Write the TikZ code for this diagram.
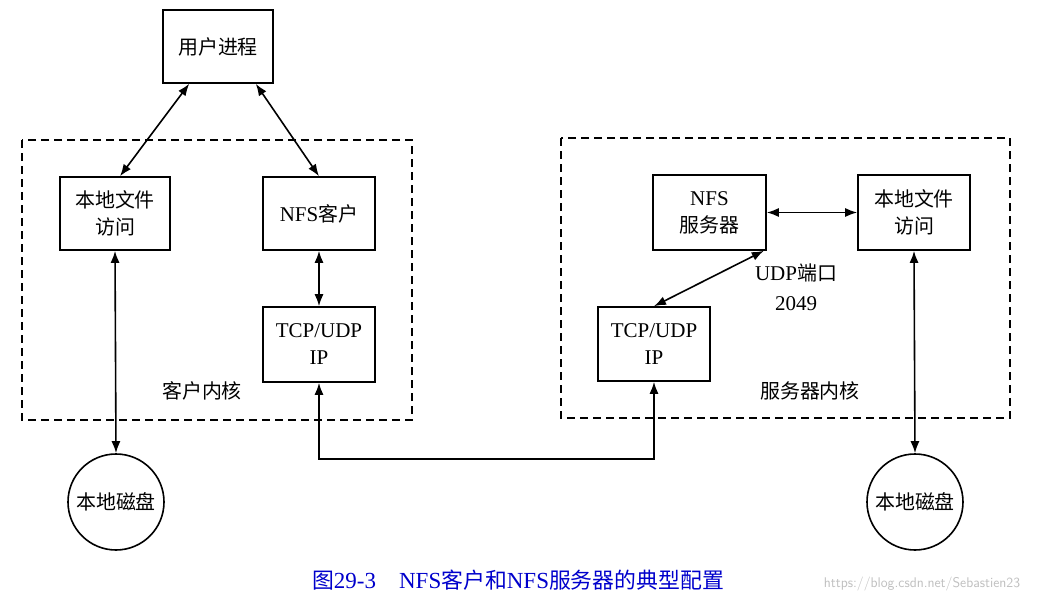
\documentclass[tikz,border=0pt]{standalone}
\usepackage{fontspec}
\setmainfont{Liberation Serif}
\newfontfamily\cjk{Noto Sans CJK SC}[Scale=0.95]
\usetikzlibrary{arrows.meta}
\begin{document}
\begin{tikzpicture}[x=1pt,y=-1pt,
 box/.style={draw,line width=1.6pt,inner sep=0,align=center,font=\fontsize{21}{27}\selectfont},
 lab/.style={font=\fontsize{21}{30}\selectfont,align=center},
 kern/.style={draw,line width=1.3pt,dash pattern=on 8pt off 5pt},
 arr/.style={line width=1.6pt,{Latex[length=12pt,width=9pt]}-{Latex[length=12pt,width=9pt]}}]
\useasboundingbox (0,0) rectangle (1037,605);
\fill[white] (0,0) rectangle (1037,605);
\draw[kern] (22,140) rectangle (412,420);
\draw[kern] (561,138) rectangle (1010,418);
\node[box,minimum width=110pt,minimum height=73pt] (up) at (218,46.5) {\cjk 用户进程};
\node[box,minimum width=110pt,minimum height=73pt] (llf) at (115,213.5) {\cjk 本地文件\\\cjk 访问};
\node[box,minimum width=112pt,minimum height=73pt] (nfsc) at (319,213.5) {NFS{\cjk 客户}};
\node[box,minimum width=112pt,minimum height=75pt] (tcpl) at (319,344.5) {TCP/UDP\\IP};
\node[lab] (ck) at (202,391) {\cjk 客户内核};
\node[draw,circle,line width=1.6pt,minimum size=96pt,inner sep=0,lab] (dl) at (116,502) {\cjk 本地磁盘};
\node[box,minimum width=113pt,minimum height=75pt] (nfss) at (709.5,212.5) {NFS\\\cjk 服务器};
\node[box,minimum width=112pt,minimum height=75pt] (rlf) at (914,212.5) {\cjk 本地文件\\\cjk 访问};
\node[box,minimum width=112pt,minimum height=74pt] (tcpr) at (654,344) {TCP/UDP\\IP};
\node[lab] (port) at (796,287) {UDP{\cjk 端口}\\2049};
\node[lab] (sk) at (810,391) {\cjk 服务器内核};
\node[draw,circle,line width=1.6pt,minimum size=96pt,inner sep=0,lab] (dr) at (915,502) {\cjk 本地磁盘};
\node[font=\fontsize{23}{26}\selectfont,text=blue!80!black] (cap) at (518,580) {{\cjk 图}29-3\quad NFS{\cjk 客户和}NFS{\cjk 服务器的典型配置}};
\node[font=\fontsize{14}{16}\selectfont\sffamily,text=gray!50] (wm) at (922,584) {https://blog.csdn.net/Sebastien23};
\draw[arr] ([xshift=27pt]up.south west) -- ([xshift=5pt]llf.north);
\draw[arr] ([xshift=-18pt]up.south east) -- (nfsc.north);
\draw[arr] (nfsc.south) -- (tcpl.north);
\draw[arr] (llf.south) -- (dl.north);
\draw[arr] (tcpl.south) -- ++(0,76) -| (tcpr.south);
\draw[arr] (nfss.east) -- (rlf.west);
\draw[arr] ([xshift=-3pt]nfss.south east) -- (tcpr.north);
\draw[arr] (rlf.south) -- (dr.north);
\end{tikzpicture}
\end{document}
